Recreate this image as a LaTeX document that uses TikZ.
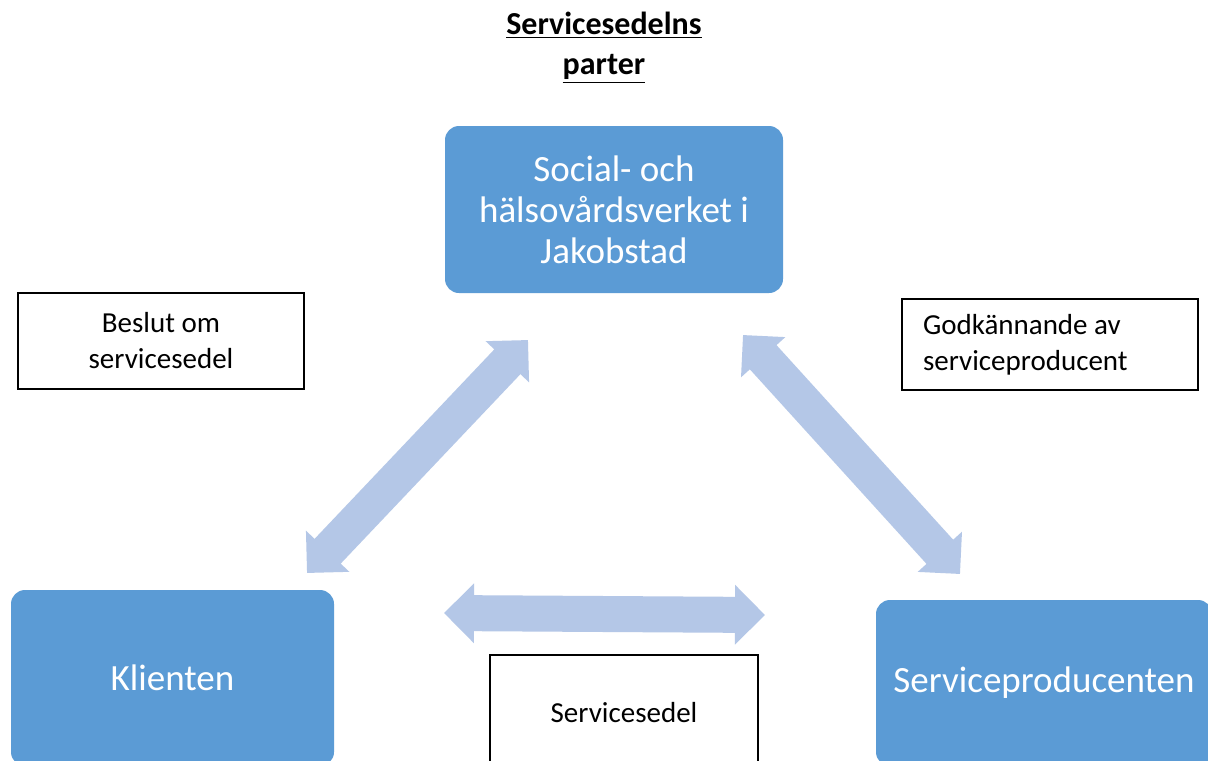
\documentclass[tikz,border=0pt]{standalone}
\usepackage{fontspec}
\setmainfont{Carlito}
\usepackage{xcolor}
\usetikzlibrary{arrows.meta}

\definecolor{partblue}{HTML}{5B9BD5}
\definecolor{flowblue}{HTML}{B4C7E7}

\begin{document}
\begin{tikzpicture}[
            x=0.5pt, y=-0.5pt,
            party/.style={rectangle, fill=partblue, rounded corners=7pt, text=white, align=center, font=\fontsize{18.5}{20.5}\selectfont},
            note/.style={rectangle, draw=black, line width=0.6pt, fill=white, align=center, font=\fontsize{14.5}{18}\selectfont},
            flow/.style={flowblue, line width=18pt, {Triangle[width=29pt, length=15pt]}-{Triangle[width=29pt, length=15pt]}}
        ]
            \clip (0,0) rectangle (1208,760);
            \fill[white] (0,0) rectangle (1208,760);

            \node[align=center, font=\fontsize{16}{20}\selectfont\bfseries] (title) at (604,48) {\underline{Servicesedelns}\\\underline{parter}};

            \node[party, minimum width=169pt, minimum height=83.5pt] (verket) at (614,209.5) {Social- och\\hälsovårdsverket i\\Jakobstad};
            \node[party, minimum width=161.5pt, minimum height=88pt] (klient) at (172.5,678) {Klienten};
            \node[party, minimum width=168pt, minimum height=83pt] (producent) at (1044,683) {Serviceproducenten};

            \node[note, minimum width=143pt, minimum height=48pt] (beslut) at (161,341) {Beslut om\\servicesedel};
            \node[note, minimum width=148pt, minimum height=45.5pt, text width=127pt, inner xsep=10.5pt, align=flush left] (godk) at (1050,344.5) {Godkännande av\\serviceproducent};
            \node[note, minimum width=134pt, minimum height=58pt] (sedel) at (624,713) {Servicesedel};

            % arrow ends
            \coordinate (vk) at (307,573);
            \coordinate (kv) at (528,340);
            \coordinate (vp) at (743,335);
            \coordinate (pv) at (960,574);
            \coordinate (kp) at (444,613);
            \coordinate (pk) at (765,615);

            \draw[flow] (vk) -- (kv);
            \draw[flow] (vp) -- (pv);
            \draw[flow] (kp) -- (pk);
        \end{tikzpicture}
\end{document}
